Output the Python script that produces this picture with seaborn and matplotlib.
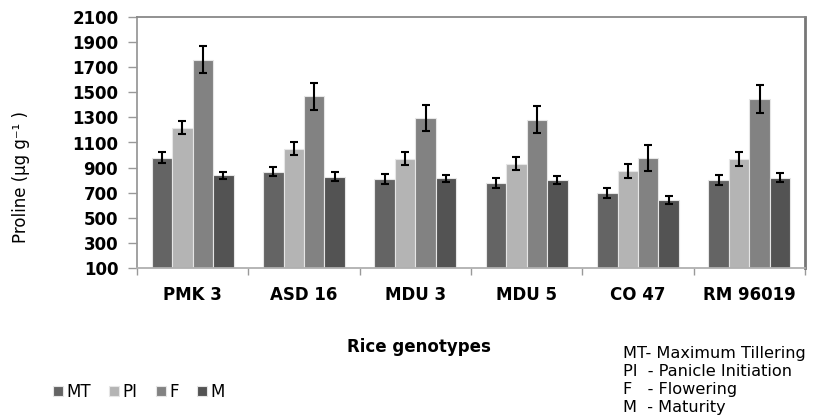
import matplotlib
matplotlib.use("Agg")
import matplotlib.pyplot as plt
import seaborn as sns
import pandas as pd
import numpy as np

# Proline content of rice genotypes at four growth stages
genotypes = ["PMK 3", "ASD 16", "MDU 3", "MDU 5", "CO 47", "RM 96019"]
stages = ["MT", "PI", "F", "M"]

mt_vals = [980, 868, 808, 778, 700, 800]
pi_vals = [1218, 1050, 972, 930, 872, 968]
f_vals = [1760, 1468, 1295, 1282, 978, 1448]
m_vals = [840, 828, 814, 800, 643, 820]

mt_err = [42, 35, 42, 42, 41, 42]
pi_err = [52, 53, 53, 53, 54, 53]
f_err = [110, 110, 105, 106, 106, 109]
m_err = [28, 33, 29, 33, 33, 35]

stage_notes = ["MT- Maximum Tillering", "PI  - Panicle Initiation",
               "F   - Flowering", "M  - Maturity"]

yticks = list(range(100, 2101, 200))

values = {"MT": mt_vals, "PI": pi_vals, "F": f_vals, "M": m_vals}
errors = {"MT": mt_err, "PI": pi_err, "F": f_err, "M": m_err}
colors = ["#646464", "#b4b4b4", "#828282", "#535353"]

df = pd.DataFrame([
    {"Genotype": g, "Stage": s, "Proline": values[s][i]}
    for s in stages for i, g in enumerate(genotypes)
])

sns.set_theme(style="white")
plt.rcParams["font.family"] = ["DejaVu Sans"]
plt.rcParams["text.color"] = "black"
plt.rcParams["xtick.color"] = "black"
plt.rcParams["ytick.color"] = "black"
plt.rcParams["xtick.labelcolor"] = "black"
plt.rcParams["ytick.labelcolor"] = "black"

fig = plt.figure(figsize=(8.15, 4.15), dpi=100)
ax = fig.add_axes([137 / 815, 1 - 268 / 415, (805 - 137) / 815, (268 - 17) / 415])

sns.barplot(data=df, x="Genotype", y="Proline", hue="Stage",
            hue_order=stages, order=genotypes, palette=colors,
            errorbar=None, width=0.735, saturation=1,
            edgecolor="#e6e6e6", linewidth=0.8, ax=ax)

for cont, s in zip(ax.containers, stages):
    xs = [p.get_x() + p.get_width() / 2 for p in cont.patches]
    hs = [p.get_height() for p in cont.patches]
    ax.errorbar(xs, hs, yerr=errors[s], fmt="none", ecolor="black",
                elinewidth=1.5, capsize=3.2, capthick=1.5, zorder=5)

ax.set_ylim(100, 2100)
ax.set_xlim(-0.5, len(genotypes) - 0.5)
ax.set_yticks(yticks)
ax.set_yticklabels([str(t) for t in yticks], fontsize=12, fontweight="bold")
ax.set_xticks(range(len(genotypes)))
ax.set_xticklabels(genotypes, fontsize=12, fontweight="bold")
ax.set_xticks(np.arange(-0.5, len(genotypes), 1.0), minor=True)
ax.tick_params(axis="x", which="major", length=0, pad=13)
ax.tick_params(axis="x", which="minor", length=5, width=1, color="#999999",
               direction="out", bottom=True)
ax.tick_params(axis="y", which="major", length=6.5, width=1, color="#999999",
               direction="out", left=True, pad=7)
ax.set_xlabel("")
ax.set_ylabel("")

for side in ["left", "bottom", "top", "right"]:
    ax.spines[side].set_visible(True)
    ax.spines[side].set_linewidth(1.3)
ax.spines["left"].set_color("#9a9a9a")
ax.spines["bottom"].set_color("#b0b0b0")
ax.spines["top"].set_color("#888888")
ax.spines["right"].set_color("#777777")
ax.spines["right"].set_linewidth(2)

fig.text(21 / 815, 1 - 177 / 415, "Proline (µg g⁻¹ )", rotation=90,
         ha="center", va="center", fontsize=12)
fig.text(419 / 815, 1 - 347 / 415, "Rice genotypes", ha="center",
         va="center", fontsize=12, fontweight="bold")

for i, note in enumerate(stage_notes):
    fig.text(623 / 815, 1 - (353 + 18.3 * i) / 415, note, ha="left",
             va="center", fontsize=11.6)

sns.move_legend(ax, loc="center left", bbox_to_anchor=(38 / 815, 1 - 392 / 415),
                bbox_transform=fig.transFigure, ncol=4, frameon=False,
                title=None, fontsize=12, handlelength=0.6, handleheight=0.6,
                handletextpad=0.2, columnspacing=1.1)

fig.savefig("out.png", dpi=100)
